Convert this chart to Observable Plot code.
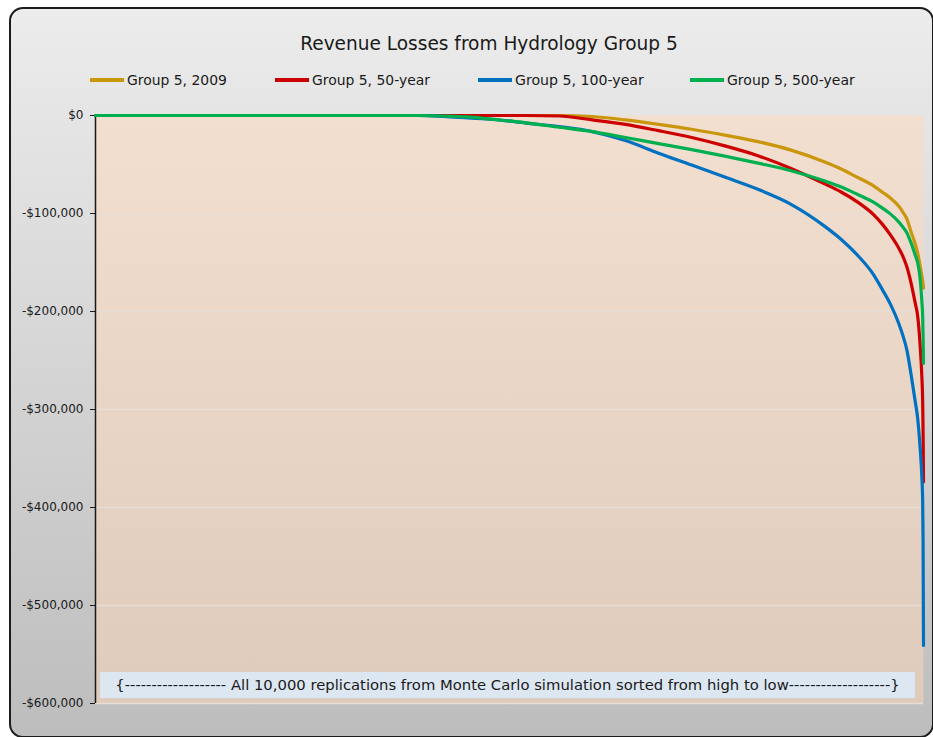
<!DOCTYPE html>
<html><head><meta charset="utf-8">
<script src="https://cdn.jsdelivr.net/npm/d3@7"></script>
<script src="https://cdn.jsdelivr.net/npm/@observablehq/plot@0.6"></script>
<style>
body{margin:0;background:#fff;}
#wrap{position:relative;width:933px;height:737px;overflow:hidden;background:#fff;font-family:"DejaVu Sans",sans-serif;color:#1a1a1a;}
#frame{position:absolute;left:9px;top:7px;width:921px;height:727px;border:2px solid #1c1c1c;border-radius:14px;background:linear-gradient(#ececec,#bdbdbd);}
#title{position:absolute;left:0;top:43px;width:978px;height:0;text-align:center;}
#title span{display:inline-block;transform:translateY(-50%);font-size:17px;white-space:nowrap;}
.leg{position:absolute;top:80px;height:0;white-space:nowrap;}
.leg .sw{position:absolute;left:0;top:-2px;width:34px;height:4px;}
.leg .tx{position:absolute;left:37px;top:0;transform:translateY(-50%);font-size:13px;white-space:nowrap;}
#note{position:absolute;left:100px;top:672px;width:815px;height:26px;background:#dde7f2;text-align:center;}
#note span{display:inline-block;font-size:13px;line-height:26px;white-space:nowrap;}
#chart{position:absolute;left:0;top:0;}
</style></head>
<body>
<div id="wrap">
  <div id="frame"></div>
  <div id="title"><span id="titleText">Revenue Losses from Hydrology Group 5</span></div>
  <div id="legend"></div>
  <div id="chart"></div>
  <div id="note"><span id="noteText"></span></div>
</div>
<script>
const seriesNames = ["Group 5, 2009", "Group 5, 50-year", "Group 5, 100-year", "Group 5, 500-year"];
const seriesColors = ["#c9960c", "#cc0000", "#0070c0", "#00b050"];
const ranks = [0, 3900, 4200, 4500, 4800, 5200, 5600, 6000, 6400, 6800, 7200, 7600, 8000, 8400, 8800, 9000, 9200, 9400, 9500, 9600, 9700, 9750, 9800, 9850, 9900, 9930, 9960, 9980, 9990, 9995, 10000];
const group2009 = [0, 0, 0, 0, 0, 0, 0, -1000, -4500, -9000, -14000, -20000, -26600, -35300, -47100, -54300, -63000, -72000, -78000, -84200, -92400, -98500, -105700, -118800, -131100, -140300, -153600, -163800, -168900, -172000, -176100];
const group50yr = [0, 0, 0, 0, 0, 0, -500, -4500, -9000, -15500, -22500, -31000, -41000, -54000, -69500, -77800, -88100, -101400, -110600, -121900, -135200, -143400, -154600, -171000, -191500, -204800, -235500, -266200, -291800, -322600, -373800];
const group100yr = [0, 0, -1000, -2500, -4000, -7700, -11300, -16400, -25600, -38400, -50500, -62800, -75300, -90600, -112600, -126000, -142300, -162800, -177200, -192500, -212000, -224300, -239600, -264200, -291800, -309300, -340000, -368600, -394200, -435200, -540700];
const group500yr = [0, 0, -500, -1500, -4000, -7500, -12000, -16500, -22500, -28700, -34800, -41500, -48600, -56300, -66600, -72700, -80400, -88600, -94200, -100400, -108500, -113700, -119800, -130000, -142300, -150500, -166900, -189400, -204800, -225300, -252900];
const yTicks = [0, -100000, -200000, -300000, -400000, -500000, -600000];
const noteText = "{------------------- All 10,000 replications from Monte Carlo simulation sorted from high to low-------------------}";

const seriesValues = [group2009, group50yr, group100yr, group500yr];
const rows = seriesNames.flatMap((name, s) => ranks.map((r, i) => ({series: name, rank: r, value: seriesValues[s][i]})));

const fmt = d => d === 0 ? "$0" : "-$" + d3.format(",")(-d);

const svg = Plot.plot({
  width: 933, height: 737,
  marginTop: 115, marginBottom: 34, marginLeft: 95, marginRight: 10,
  style: {background: "transparent", fontFamily: "'DejaVu Sans', sans-serif", color: "#1a1a1a"},
  x: {domain: [0, 10000], axis: null},
  y: {domain: [-600000, 0], axis: null},
  color: {domain: seriesNames, range: seriesColors},
  marks: [
    Plot.frame({fill: "url(#peach)", stroke: "none"}),
    Plot.gridY(yTicks.filter(d => d !== 0), {stroke: "#e7ddd6", strokeOpacity: 1, strokeWidth: 1.5}),
    Plot.axisY(yTicks, {tickSize: 5, tickPadding: 7, tickFormat: fmt, fontSize: 12, stroke: "#1a1a1a", label: null}),
    Plot.ruleX([0], {stroke: "#1a1a1a", strokeWidth: 1.5}),
    Plot.line(rows, {x: "rank", y: "value", z: "series", stroke: "series", strokeWidth: 3.2, curve: "monotone-x"})
  ]
});
const defs = document.createElementNS("http://www.w3.org/2000/svg", "defs");
defs.innerHTML = '<linearGradient id="peach" x1="0" y1="0" x2="0" y2="1"><stop offset="0" stop-color="#f2dfd0"/><stop offset="1" stop-color="#dfcbbb"/></linearGradient>';
svg.insertBefore(defs, svg.firstChild);
document.getElementById("chart").appendChild(svg);

function fit(el, target) {
  const w = el.getBoundingClientRect().width;
  const fs = parseFloat(getComputedStyle(el).fontSize);
  el.style.fontSize = (fs * target / w) + "px";
}

const legX = [90, 275, 478, 690];
const legW = [100, 118, 129, 128];
const leg = document.getElementById("legend");
seriesNames.forEach((n, i) => {
  const d = document.createElement("div");
  d.className = "leg";
  d.style.left = legX[i] + "px";
  d.innerHTML = `<span class="sw" style="background:${seriesColors[i]}"></span><span class="tx">${n}</span>`;
  leg.appendChild(d);
  fit(d.querySelector(".tx"), legW[i]);
});
document.getElementById("noteText").textContent = noteText;
fit(document.getElementById("noteText"), 785);
fit(document.getElementById("titleText"), 378);
</script>
</body></html>
